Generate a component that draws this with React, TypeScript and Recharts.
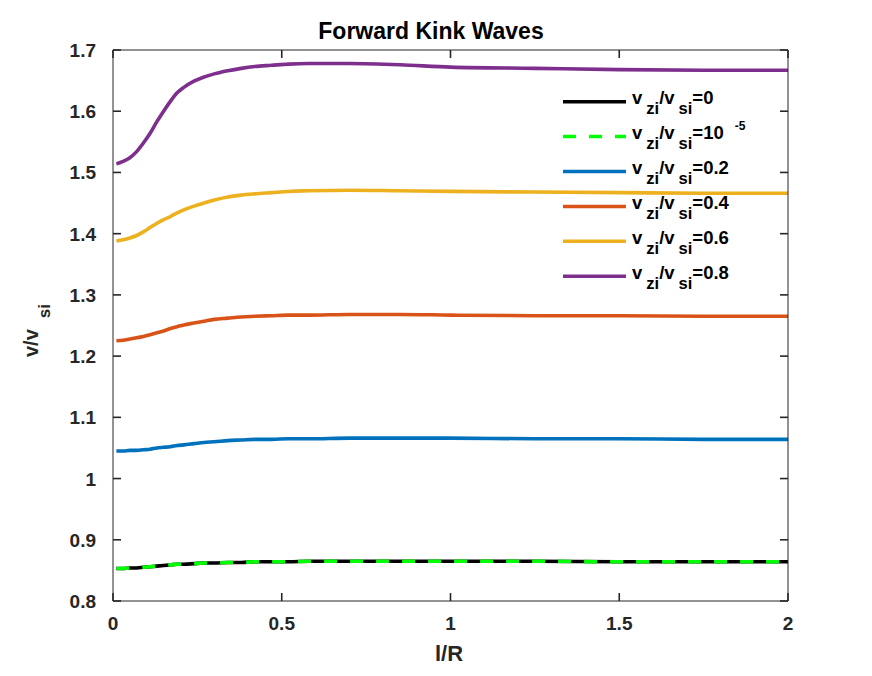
import React from "react";
import { LineChart, Line, XAxis, YAxis, Customized } from "recharts";

// l/R sample positions
const lr = [0.01, 0.03, 0.05, 0.07, 0.09, 0.11, 0.13, 0.15, 0.17, 0.19, 0.21, 0.24, 0.27, 0.3, 0.34, 0.38, 0.42, 0.47, 0.52, 0.58, 0.7, 0.85, 1.0, 1.25, 1.5, 1.75, 2.0];

// v/v_si for each v_zi/v_si
const v0 = [0.853, 0.853, 0.854, 0.854, 0.855, 0.856, 0.857, 0.858, 0.859, 0.86, 0.86, 0.861, 0.862, 0.862, 0.863, 0.863, 0.864, 0.864, 0.864, 0.865, 0.865, 0.865, 0.865, 0.865, 0.864, 0.864, 0.864];
const v1e5 = [0.853, 0.853, 0.854, 0.854, 0.855, 0.856, 0.857, 0.858, 0.859, 0.86, 0.86, 0.861, 0.862, 0.862, 0.863, 0.863, 0.864, 0.864, 0.864, 0.865, 0.865, 0.865, 0.865, 0.865, 0.864, 0.864, 0.864];
const v02 = [1.045, 1.045, 1.046, 1.046, 1.047, 1.048, 1.05, 1.051, 1.052, 1.054, 1.055, 1.057, 1.059, 1.06, 1.062, 1.063, 1.064, 1.064, 1.065, 1.065, 1.066, 1.066, 1.066, 1.065, 1.065, 1.064, 1.064];
const v04 = [1.225, 1.226, 1.228, 1.23, 1.232, 1.235, 1.238, 1.241, 1.245, 1.248, 1.251, 1.254, 1.257, 1.26, 1.262, 1.264, 1.265, 1.266, 1.267, 1.267, 1.268, 1.268, 1.267, 1.266, 1.266, 1.265, 1.265];
const v06 = [1.388, 1.39, 1.393, 1.397, 1.403, 1.41, 1.417, 1.423, 1.428, 1.434, 1.439, 1.445, 1.45, 1.455, 1.46, 1.463, 1.465, 1.467, 1.469, 1.47, 1.471, 1.47, 1.469, 1.468, 1.467, 1.466, 1.466];
const v08 = [1.514, 1.518, 1.524, 1.534, 1.548, 1.564, 1.583, 1.6, 1.616, 1.63, 1.639, 1.649, 1.656, 1.661, 1.666, 1.67, 1.673, 1.675, 1.677, 1.678, 1.678, 1.676, 1.672, 1.67, 1.668, 1.667, 1.667];

const keys = ["v0", "v1e5", "v02", "v04", "v06", "v08"];
const colors = ["#000000", "#00ff00", "#0072bd", "#d95319", "#edb120", "#7e2f8e"];
const dashes = [undefined, "13 13", undefined, undefined, undefined, undefined];
const legendValues = ["0", "10", "0.2", "0.4", "0.6", "0.8"];
const legendSup = ["", "-5", "", "", "", ""];

const xTicks = [0, 0.5, 1, 1.5, 2];
const yTicks = [0.8, 0.9, 1, 1.1, 1.2, 1.3, 1.4, 1.5, 1.6, 1.7];
const xDomain = [0, 2];
const yDomain = [0.8, 1.7];

const data = lr.map((x, i) => ({
  x,
  v0: v0[i],
  v1e5: v1e5[i],
  v02: v02[i],
  v04: v04[i],
  v06: v06[i],
  v08: v08[i],
}));

const FONT = "'Liberation Sans', Arial, Helvetica, sans-serif";
const AXIS = "#262626";
const TICK = 8;
// plot box (margin + axis size)
const BOX = { left: 113, top: 50, right: 788, bottom: 601 };
const px = (v: number) => BOX.left + ((v - xDomain[0]) / (xDomain[1] - xDomain[0])) * (BOX.right - BOX.left);
const py = (v: number) => BOX.bottom - ((v - yDomain[0]) / (yDomain[1] - yDomain[0])) * (BOX.bottom - BOX.top);
const fmt = (v: number) => String(+v.toFixed(1));

const BottomTick = (p: any) => (
  <text x={p.x} y={p.y + 29} textAnchor="middle" fontFamily={FONT} fontWeight="bold" fontSize={19} fill="#262626">
    {fmt(p.payload.value)}
  </text>
);
const LeftTick = (p: any) => (
  <text x={p.x - 17} y={p.y + 7} textAnchor="end" fontFamily={FONT} fontWeight="bold" fontSize={19} fill="#262626">
    {fmt(p.payload.value)}
  </text>
);

const Overlay = () => (
  <g fontFamily={FONT} fontWeight="bold" fill="#000">
    {/* inward tick marks on all four sides */}
    <g stroke={AXIS} strokeWidth={1.6}>
      {xTicks.map((t) => (
        <g key={`x${t}`}>
          <line x1={px(t)} y1={BOX.bottom} x2={px(t)} y2={BOX.bottom - TICK} />
          <line x1={px(t)} y1={BOX.top} x2={px(t)} y2={BOX.top + TICK} />
        </g>
      ))}
      {yTicks.map((t) => (
        <g key={`y${t}`}>
          <line x1={BOX.left} y1={py(t)} x2={BOX.left + TICK} y2={py(t)} />
          <line x1={BOX.right} y1={py(t)} x2={BOX.right - TICK} y2={py(t)} />
        </g>
      ))}
    </g>
    <text x={431} y={39} textAnchor="middle" fontSize={23}>Forward Kink Waves</text>
    <text x={449} y={661} textAnchor="middle" fontSize={22} fill="#262626">l/R</text>
    <text x={38} y={357} transform="rotate(-90 38 357)" fontSize={20} fill="#262626">
      <tspan>v/v</tspan>
      <tspan dx={11} dy={12} fontSize={17}>si</tspan>
    </text>
    {keys.map((k, i) => {
      const y = 101.7 + i * 34.9;
      return (
        <g key={k}>
          <line x1={563} y1={y} x2={626} y2={y} stroke={colors[i]} strokeWidth={3.5} strokeDasharray={dashes[i]} />
          <text x={632} y={y + 2.5} fontSize={18.5}>
            <tspan>v</tspan>
            <tspan dx={4} dy={10} fontSize={16.5}>zi</tspan>
            <tspan dy={-10}>/v</tspan>
            <tspan dx={4} dy={10} fontSize={16.5}>si</tspan>
            <tspan dy={-10}>={legendValues[i]}</tspan>
            {legendSup[i] ? (
              <tspan dx={11} dy={-9} fontSize={12}>{legendSup[i]}</tspan>
            ) : null}
          </text>
        </g>
      );
    })}
  </g>
);

export default function App() {
  return (
    <div style={{ position: "absolute", left: 0, top: 0, width: 872, height: 676, background: "#fff" }}>
      <LineChart width={872} height={676} data={data} margin={{ top: 40, right: 74, bottom: 45, left: 73 }}>
        <XAxis
          xAxisId="b"
          dataKey="x"
          type="number"
          domain={xDomain}
          ticks={xTicks}
          interval={0}
          height={30}
          tickSize={0}
          tickMargin={0}
          tickLine={false}
          axisLine={{ stroke: AXIS }}
          tick={<BottomTick />}
        />
        <XAxis
          xAxisId="t"
          orientation="top"
          dataKey="x"
          type="number"
          domain={xDomain}
          ticks={xTicks}
          height={10}
          tickLine={false}
          tick={false}
          axisLine={{ stroke: AXIS }}
        />
        <YAxis
          yAxisId="l"
          type="number"
          domain={yDomain}
          ticks={yTicks}
          interval={0}
          width={40}
          tickSize={0}
          tickMargin={0}
          tickLine={false}
          axisLine={{ stroke: AXIS }}
          tick={<LeftTick />}
        />
        <YAxis
          yAxisId="r"
          orientation="right"
          type="number"
          domain={yDomain}
          ticks={yTicks}
          width={10}
          tickLine={false}
          tick={false}
          axisLine={{ stroke: AXIS }}
        />
        {keys.map((k, i) => (
          <Line
            key={k}
            xAxisId="b"
            yAxisId="l"
            dataKey={k}
            type="monotone"
            stroke={colors[i]}
            strokeWidth={3.6}
            strokeDasharray={dashes[i]}
            dot={false}
            activeDot={false}
            isAnimationActive={false}
          />
        ))}
        <Customized component={<Overlay />} />
      </LineChart>
    </div>
  );
}
